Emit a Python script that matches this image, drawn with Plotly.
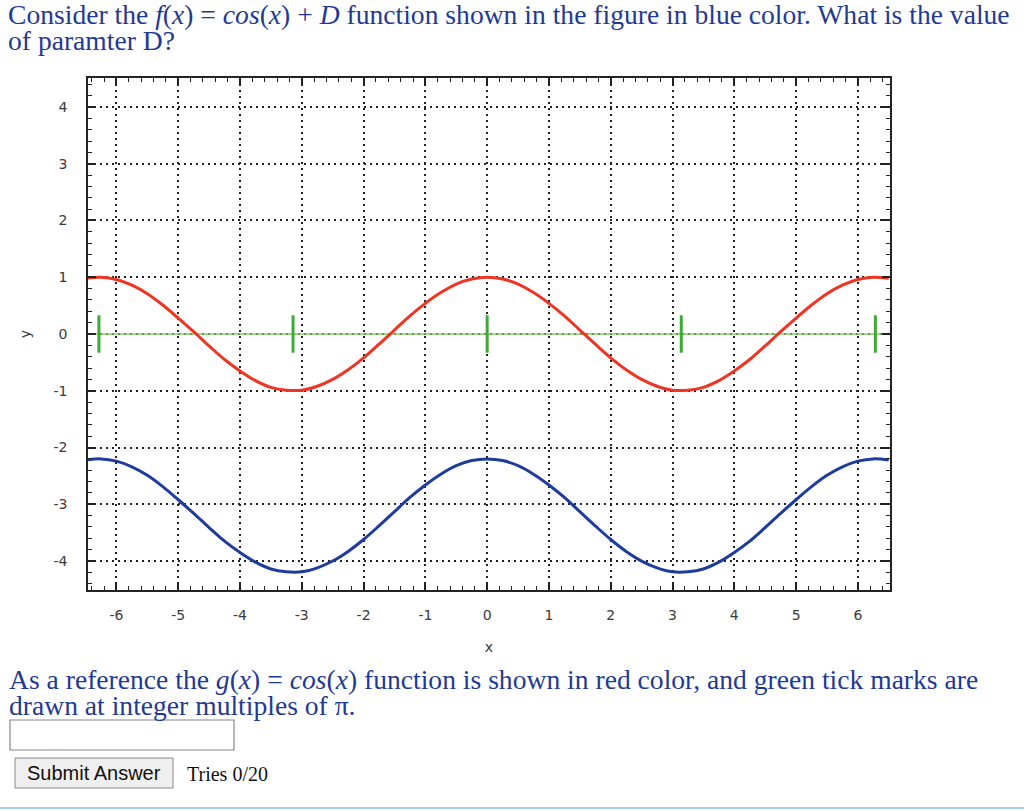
import plotly.graph_objects as go

# ---- data ----
x_vals = [-6.5, -6.25, -6.0, -5.75, -5.5, -5.25, -5.0, -4.75, -4.5, -4.25, -4.0, -3.75, -3.5, -3.25,
          -3.0, -2.75, -2.5, -2.25, -2.0, -1.75, -1.5, -1.25, -1.0, -0.75, -0.5, -0.25, 0.0,
          0.25, 0.5, 0.75, 1.0, 1.25, 1.5, 1.75, 2.0, 2.25, 2.5, 2.75, 3.0, 3.25, 3.5, 3.75,
          4.0, 4.25, 4.5, 4.75, 5.0, 5.25, 5.5, 5.75, 6.0, 6.25, 6.5]
red_y = [0.98, 1.00, 0.96, 0.86, 0.71, 0.51, 0.28, 0.04, -0.21, -0.45, -0.65, -0.82, -0.94, -0.99,
         -0.99, -0.92, -0.80, -0.63, -0.42, -0.18, 0.07, 0.32, 0.54, 0.73, 0.88, 0.97, 1.00,
         0.97, 0.88, 0.73, 0.54, 0.32, 0.07, -0.18, -0.42, -0.63, -0.80, -0.92, -0.99, -0.99, -0.94, -0.82,
         -0.65, -0.45, -0.21, 0.04, 0.28, 0.51, 0.71, 0.86, 0.96, 1.00, 0.98]
D_offset = -3.2
blue_y = [v + D_offset for v in red_y]
pi_marks = [-6.2832, -3.1416, 0.0, 3.1416, 6.2832]
pi_mark_half = 0.33
x_ticks = [-6, -5, -4, -3, -2, -1, 0, 1, 2, 3, 4, 5, 6]
y_ticks = [-4, -3, -2, -1, 0, 1, 2, 3, 4]

# ---- page geometry (page pixels; body margin removed in post_script) ----
W, H = 1024, 811
L, R, T, B = 88, 890, 78, 590  # plot frame

def px(x):
    return (x - L) / (R - L)

def py(y):
    return (B - y) / (B - T)

TEXT_BLUE = "#1f3a93"
SERIF = "Liberation Serif"

fig = go.Figure()

# green baseline
fig.add_trace(go.Scatter(x=[-6.46, 6.52], y=[0, 0], mode="lines",
                         line=dict(color="#7ccc62", width=1.5), hoverinfo="skip", showlegend=False))
# green pi ticks
gx, gy = [], []
for m in pi_marks:
    gx += [m, m, None]
    gy += [-pi_mark_half, pi_mark_half, None]
fig.add_trace(go.Scatter(x=gx, y=gy, mode="lines", line=dict(color="#3daa35", width=3),
                         hoverinfo="skip", showlegend=False))
# red g(x)
fig.add_trace(go.Scatter(x=x_vals, y=red_y, mode="lines", line=dict(color="#ee3524", width=3, shape="spline"),
                         showlegend=False))
# blue f(x)
fig.add_trace(go.Scatter(x=x_vals, y=blue_y, mode="lines", line=dict(color="#1d3c9e", width=3, shape="spline"),
                         showlegend=False))

axis_common = dict(
    showline=True, linecolor="#222", linewidth=1.5, mirror="allticks",
    ticks="inside", ticklen=8, tickwidth=1.5, tickcolor="#222",
    showgrid=True, gridcolor="#222", griddash="2px,4px", gridwidth=1.5,
    zeroline=False,
    tickfont=dict(family="DejaVu Sans", size=14, color="#3a3a3a"),
    minor=dict(ticks="inside", ticklen=4, tickwidth=1.2, tickcolor="#222", dtick=0.2, showgrid=False),
)

fig.update_xaxes(range=[-6.46, 6.52], tickvals=x_ticks, ticktext=[str(v) for v in x_ticks],
                 ticklabelstandoff=11,
                 title=dict(text="x", font=dict(family="DejaVu Sans", size=14, color="#3a3a3a"), standoff=21),
                 **axis_common)
fig.update_yaxes(range=[-4.51, 4.51], tickvals=y_ticks, ticktext=[str(v) for v in y_ticks],
                 ticklabelstandoff=16,
                 title=dict(text="y", font=dict(family="DejaVu Sans", size=14, color="#3a3a3a"), standoff=20),
                 **axis_common)

ann = []
def text(x, y, s, size=27.6, color=TEXT_BLUE, family=SERIF, xanchor="left"):
    ann.append(dict(x=px(x), y=py(y), xref="paper", yref="paper", text=s, showarrow=False,
                    xanchor=xanchor, yanchor="middle", font=dict(family=family, size=size, color=color)))

text(6, 14, "Consider the <i>f</i>(<i>x</i>) = <i>cos</i>(<i>x</i>) + <i>D</i> function shown in the figure in blue color. What is the value")
text(6, 40, "of paramter D?")
text(7, 679, "As a reference the <i>g</i>(<i>x</i>) = <i>cos</i>(<i>x</i>) function is shown in red color, and green tick marks are")
text(7, 705, "drawn at integer multiples of \u03c0.")
text(94, 773, "Submit Answer", size=20, color="#111", family="Liberation Sans", xanchor="center")
text(185, 774, "Tries 0/20", size=20, color="#111")

shapes = [
    dict(type="rect", xref="paper", yref="paper", x0=px(10), x1=px(234), y0=py(720), y1=py(750),
         line=dict(color="#888", width=1.2), fillcolor="white"),
    dict(type="rect", xref="paper", yref="paper", x0=px(15), x1=px(173), y0=py(758), y1=py(788),
         line=dict(color="#8a8a8a", width=1), fillcolor="#efefef"),
    dict(type="line", xref="paper", yref="paper", x0=px(0), x1=px(1024), y0=py(808), y1=py(808),
         line=dict(color="#a9cdf3", width=2)),
]

fig.update_layout(width=W, height=H,
                  margin=dict(l=L, r=W - R, t=T, b=H - B),
                  paper_bgcolor="white", plot_bgcolor="white",
                  annotations=ann, shapes=shapes, showlegend=False)

fig.write_html("out.html", config={"displayModeBar": False},
               post_script="document.body.style.margin='0';document.body.style.overflow='hidden';")
